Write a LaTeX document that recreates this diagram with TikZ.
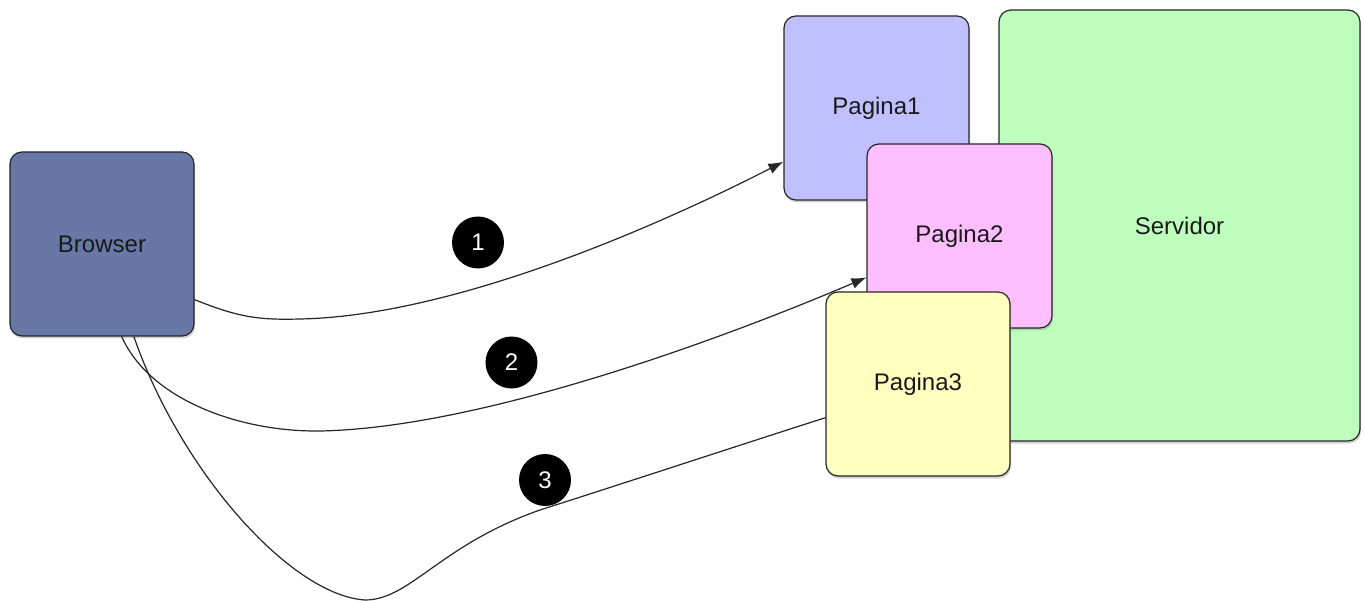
\documentclass[tikz,border=0pt]{standalone}
\usepackage{fontspec}
\setmainfont{Liberation Sans}
\usetikzlibrary{shadows,arrows.meta}
\definecolor{cbrowser}{RGB}{104,120,166}
\definecolor{cp1}{RGB}{192,192,255}
\definecolor{cp2}{RGB}{255,190,255}
\definecolor{cp3}{RGB}{255,255,192}
\definecolor{csrv}{RGB}{190,255,190}
\definecolor{ctext}{RGB}{25,25,25}
\tikzset{
  box/.style={draw=black!85, line width=1.2pt, rounded corners=12pt, inner sep=0pt,
    font=\fontsize{24}{28}\selectfont, text=ctext,
    drop shadow={shadow xshift=1pt, shadow yshift=-2.5pt, opacity=0.35}},
  badge/.style={circle, fill=black, minimum size=52pt, inner sep=0pt, text=white,
    font=\fontsize{24}{28}\selectfont},
  conn/.style={draw=black!85, line width=1.2pt},
  arr/.style={conn, -{Latex[length=15pt,width=11pt]}}
}
\begin{document}
\begin{tikzpicture}[x=1pt,y=-1pt]
\useasboundingbox[fill=white] (0,0) rectangle (1365,601);
\node[box, fill=csrv, minimum width=361pt, minimum height=431pt] (srv) at (1179.5,225.5) {Servidor};
\node[box, fill=cp1, minimum width=185pt, minimum height=184pt] (p1) at (876.5,108) {Pagina1};
\node[box, fill=cp2, minimum width=185pt, minimum height=184pt] (p2) at (959.5,236) {Pagina2};
\node[box, fill=cp3, minimum width=184pt, minimum height=184pt] (p3) at (918,384) {Pagina3};
\node[box, fill=cbrowser, minimum width=184pt, minimum height=184pt] (b) at (102,244) {Browser};

\node[badge] (n1) at (478,242.5) {1};
\node[badge] (n2) at (511.5,362.5) {2};
\node[badge] (n3) at (545,480) {3};

\draw[arr] (b.-31) .. controls (240,318) and (260,320) .. (300,319)
  .. controls (450,316) and (650,230) .. (p1.210.7);
\draw[arr] (b.-78.9) .. controls (150,400) and (240,432) .. (320,431)
  .. controls (480,428) and (720,340) .. (p2.204.2);
\draw[conn] (b.-71.4) .. controls (180,470) and (290,595) .. (365,600)
  .. controls (410,600) and (440,545) .. (540,510)
  .. controls (640,478) and (740,445) .. (p3.200.3);
\end{tikzpicture}
\end{document}
